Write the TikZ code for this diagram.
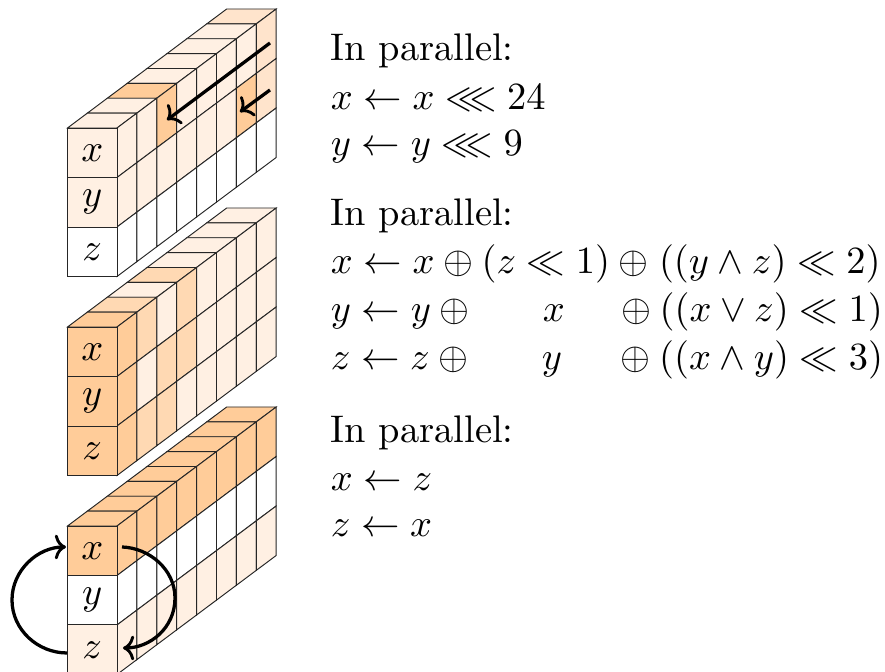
\documentclass[tikz,border=0pt]{standalone}
\usepackage{amsmath,amssymb}
\usetikzlibrary{arrows.meta}
\definecolor{la}{HTML}{FFF0E3}
\definecolor{lb}{HTML}{FFE4CC}
\definecolor{lc}{HTML}{FFD9B3}
\definecolor{oc}{HTML}{FFCC99}
% #1 text whose width is kept, #2 centred symbol, #3 extra width, #4 extra shift
\newcommand\cwbox[4]{\setbox0=\hbox{$#1$}\hbox to\dimexpr\wd0+#3\relax{\hss\kern#4$#2$\hss}}
\newcommand\sidecell[4]{\filldraw[cellline,fill=#4] ({117+19.9*#2},{-(#1-14.875*#2+49.5*#3)}) -- ++(19.9,14.875) -- ++(0,-49.5) -- ++(-19.9,-14.875) -- cycle;}
\newcommand\topcell[3]{\filldraw[cellline,fill=#3] ({67.5+19.9*#2},{-(#1-14.875*#2)}) -- ++(49.5,0) -- ++(19.9,14.875) -- ++(-49.5,0) -- cycle;}
\newcommand\frontcell[4]{\filldraw[cellline,fill=#3] (67.5,{-(#1+49.5*#2)}) rectangle ++(49.5,-49.5);
 \node[lab] (f#1#2) at (92.25,{-(#1+49.5*#2+24.75)}) {$#4$};}
\newcommand\sidecol[5]{\sidecell{#1}{#2}{0}{#3}\sidecell{#1}{#2}{1}{#4}\sidecell{#1}{#2}{2}{#5}}
\tikzset{
 cellline/.style={draw=black!85,line width=0.25pt},
 lab/.style={font=\fontsize{10}{12}\selectfont,inner sep=0pt},
 txt/.style={font=\fontsize{10}{12}\selectfont,inner sep=0pt,anchor=base west},
 arr/.style={line width=0.85pt,-{Computer Modern Rightarrow[length=2.9pt,width=6.4pt,line width=0.75pt]}},
}
\begin{document}
\begin{tikzpicture}[x=0.26pt,y=0.26pt]
\useasboundingbox (0,0) rectangle (885,-672);
% block 1
\foreach \c/\col in {7/lb,6/la,5/la,4/la,3/la,2/oc,1/la,0/la}{\topcell{128}{\c}{\col}}
\sidecol{128}{0}{la}{la}{white}
\sidecol{128}{1}{la}{la}{white}
\sidecol{128}{2}{oc}{la}{white}
\sidecol{128}{3}{la}{la}{white}
\sidecol{128}{4}{la}{la}{white}
\sidecol{128}{5}{la}{la}{white}
\sidecol{128}{6}{la}{oc}{white}
\sidecol{128}{7}{lb}{lb}{white}
\frontcell{128}{0}{la}{x}\frontcell{128}{1}{la}{y}\frontcell{128}{2}{white}{z}
% block 2
\foreach \c/\col in {7/la,6/la,5/la,4/la,3/lc,2/la,1/lc,0/oc}{\topcell{327}{\c}{\col}}
\sidecol{327}{0}{oc}{oc}{oc}
\sidecol{327}{1}{lc}{la}{lc}
\sidecol{327}{2}{la}{lc}{lc}
\sidecol{327}{3}{lc}{lc}{la}
\sidecol{327}{4}{la}{la}{la}
\sidecol{327}{5}{la}{la}{la}
\sidecol{327}{6}{la}{la}{la}
\sidecol{327}{7}{la}{la}{la}
\frontcell{327}{0}{oc}{x}\frontcell{327}{1}{oc}{y}\frontcell{327}{2}{oc}{z}
% block 3
\foreach \c in {7,6,...,0}{\topcell{526}{\c}{oc}}
\foreach \c in {0,...,7}{\sidecol{526}{\c}{oc}{white}{la}}
\frontcell{526}{0}{oc}{x}\frontcell{526}{1}{white}{y}\frontcell{526}{2}{la}{z}
% arrows
\coordinate (a1) at (270,-43); \coordinate (a2) at (167,-120);
\coordinate (b1) at (270,-90); \coordinate (b2) at (240,-112);
\draw[arr] (a1) -- (a2);
\draw[arr] (b1) -- (b2);
\coordinate (c1) at (122,-547); \coordinate (c2) at (123,-648);
\coordinate (d1) at (67,-653); \coordinate (d2) at (66,-547);
\draw[arr] (c1) .. controls (150,-548) and (175,-570) .. (175,-598) .. controls (175,-628) and (150,-648) .. (c2);
\draw[arr] (d1) .. controls (38,-653) and (12,-630) .. (12,-600) .. controls (12,-570) and (38,-547) .. (d2);
% text
\node[txt] (t1) at (330,-61) {In parallel:};
\node[txt] (t2) at (330,-110) {$x \leftarrow x \lll 24$};
\node[txt] (t3) at (330,-156) {$y \leftarrow y \lll 9$};
\node[txt] (t4) at (330,-226) {In parallel:};
\node[txt] (t5) at (330,-274) {$x \leftarrow x \oplus (z \ll 1) \oplus \kern.5pt((y \wedge z) \ll 2)$};
\node[txt] (t6) at (330,-322) {$y \leftarrow y \oplus \cwbox{(z \ll 1)}{x}{1.55pt}{4.4pt} \oplus ((x \vee z) \ll 1)$};
\node[txt] (t7) at (330,-370) {$z \leftarrow z \oplus \cwbox{(z \ll 1)}{y}{1.8pt}{3.9pt} \oplus ((x \wedge y) \ll 3)$};
\node[txt] (t8) at (330,-443) {In parallel:};
\node[txt] (t9) at (330,-491) {$x \leftarrow z$};
\node[txt] (t10) at (330,-537) {$z \leftarrow x$};
\end{tikzpicture}
\end{document}
